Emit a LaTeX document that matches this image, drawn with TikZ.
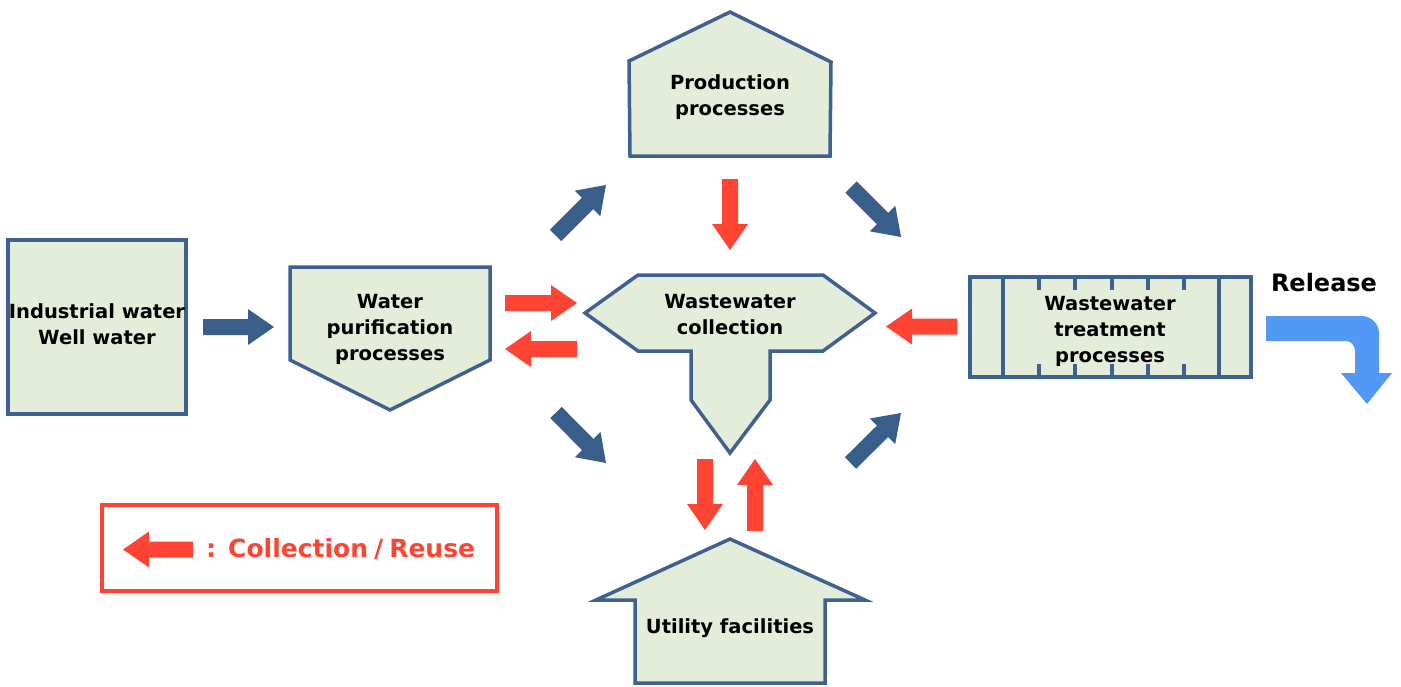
\documentclass[tikz,border=0pt]{standalone}
\usepackage{fontspec}
\setmainfont{DejaVu Sans}
\usetikzlibrary{calc}

\definecolor{boxline}{RGB}{63,97,144}
\definecolor{boxfill}{RGB}{228,237,218}
\definecolor{flowblue}{RGB}{58,94,138}
\definecolor{reusered}{RGB}{255,68,51}
\definecolor{releaseblue}{RGB}{82,153,245}

% block arrow: style, tail coordinate, tip coordinate
\newcommand\blockarrow[3]{%
  \path ($(#3)!26pt!(#2)$) coordinate (babase);
  \fill[#1] ($(#2)!8pt!90:(#3)$) -- ($(babase)!8pt!90:(#3)$)
    -- ($(babase)!18pt!90:(#3)$) -- (#3) -- ($(babase)!18pt!-90:(#3)$)
    -- ($(babase)!8pt!-90:(#3)$) -- ($(#2)!8pt!-90:(#3)$) -- cycle;}

\tikzset{
  stage/.style={draw=boxline, fill=boxfill, line width=3.5pt, line join=miter},
  label/.style={align=center, inner sep=0pt,
    font=\fontsize{19.5}{26}\selectfont\bfseries},
  flow/.style={fill=flowblue},
  reuse/.style={fill=reusered},
}

\begin{document}
\begin{tikzpicture}[x=1pt, y=-1pt]
\useasboundingbox (0,0) rectangle (1401,686);

% source
\draw[stage] (8,240) rectangle (186,414);
\node[label] (src) at (97,324) {Industrial water\\Well water};

% water purification
\draw[stage] (290,267) -- (490,267) -- (490,360) -- (390,410) -- (290,360) -- cycle;
\node[label] (pur) at (390,329) {Water\\purification\\processes};

% production
\draw[stage] (730,12) -- (831,62) -- (830,156) -- (630,156) -- (629,61) -- cycle;
\node[label] (prod) at (730,97) {Production\\processes};

% wastewater collection
\draw[stage] (585,313) -- (638,275) -- (823,275) -- (875,313) -- (823,351)
  -- (770,351) -- (770,400) -- (730,453) -- (691,400) -- (691,351)
  -- (638,351) -- cycle;
\node[label] (coll) at (730,315) {Wastewater\\collection};

% wastewater treatment
\draw[stage] (970,277) rectangle (1251,377);
\draw[boxline, line width=3.5pt] (1003,277) -- (1003,377) (1219,277) -- (1219,377);
\foreach \x in {1039,1075,1112,1148,1184}
  \draw[boxline, line width=3.5pt] (\x,277) -- (\x,290) (\x,377) -- (\x,364);
\node[label] (treat) at (1110,331) {Wastewater\\treatment\\processes};

% utility facilities
\draw[stage] (730,539) -- (865,600) -- (825,600) -- (825,683) -- (635,683)
  -- (635,600) -- (596,600) -- cycle;
\node[label] (util) at (730,628) {Utility facilities};

% main flow
\coordinate (a1) at (203,327);   \coordinate (b1) at (274,327);
\coordinate (a2) at (555.5,235.5); \coordinate (b2) at (606,185);
\coordinate (a3) at (851,187);   \coordinate (b3) at (901,237);
\coordinate (a4) at (556,412.5); \coordinate (b4) at (606,463);
\coordinate (a5) at (850.5,463); \coordinate (b5) at (901,413);
\blockarrow{flow}{a1}{b1}
\blockarrow{flow}{a2}{b2}
\blockarrow{flow}{a3}{b3}
\blockarrow{flow}{a4}{b4}
\blockarrow{flow}{a5}{b5}

% collection / reuse
\coordinate (r1a) at (730,179);   \coordinate (r1b) at (730,250);
\coordinate (r2a) at (505,303);   \coordinate (r2b) at (577,303);
\coordinate (r3a) at (577,349);   \coordinate (r3b) at (505,349);
\coordinate (r4a) at (957,326.5); \coordinate (r4b) at (886,326.5);
\coordinate (r5a) at (705,459);   \coordinate (r5b) at (705,530);
\coordinate (r6a) at (755,531);   \coordinate (r6b) at (755,459);
\blockarrow{reuse}{r1a}{r1b}
\blockarrow{reuse}{r2a}{r2b}
\blockarrow{reuse}{r3a}{r3b}
\blockarrow{reuse}{r4a}{r4b}
\blockarrow{reuse}{r5a}{r5b}
\blockarrow{reuse}{r6a}{r6b}

% release
\node[inner sep=0pt, font=\fontsize{24}{28}\selectfont\bfseries] (rel) at (1324,283) {Release};
\fill[releaseblue] (1266,316) -- (1362,316) .. controls (1371,316) and (1379,324) .. (1379,333)
  -- (1379,373) -- (1392,373) -- (1367,404) -- (1341,373) -- (1355,373) -- (1355,351)
  .. controls (1355,345) and (1351,341) .. (1345,341) -- (1266,341) -- cycle;

% legend
\draw[draw=reusered, line width=4pt] (102,505) rectangle (497,591);
\coordinate (la) at (193,549.5); \coordinate (lb) at (123,549.5);
\blockarrow{reuse}{la}{lb}
\node[inner sep=0pt, text=reusered, anchor=west, font=\fontsize{25}{28}\selectfont\bfseries]
  (leg) at (206,549) {:\hspace{12pt}Collection\hspace{6pt}/\hspace{6pt}Reuse};
\end{tikzpicture}
\end{document}
